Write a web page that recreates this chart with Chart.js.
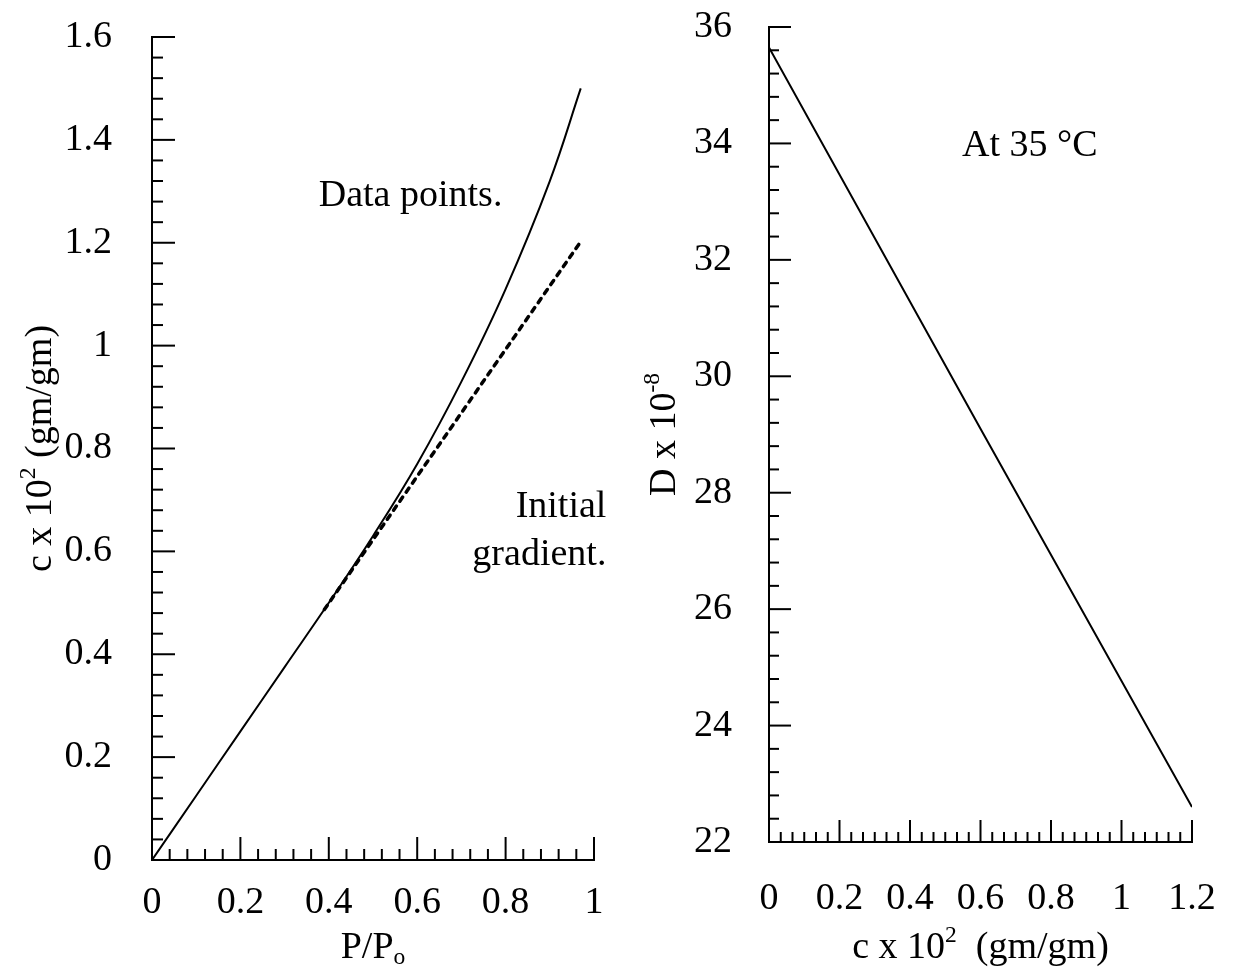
<!DOCTYPE html>
<html>
<head>
<meta charset="utf-8">
<script src="https://cdn.jsdelivr.net/npm/chart.js@4"></script>
<style>
  html, body { margin: 0; padding: 0; background: #fff; }
  .box { position: absolute; top: 0; width: 620px; height: 974px; }
  #left { left: 0; }
  #right { left: 620px; }
</style>
</head>
<body>
<div class="box" id="left"><canvas id="chartLeft" width="620" height="974"></canvas></div>
<div class="box" id="right"><canvas id="chartRight" width="620" height="974"></canvas></div>
<script>
// 왼쪽 그래프: 흡착 곡선
const ratioP = [0, 0.1, 0.2, 0.3, 0.4, 0.5, 0.6, 0.7, 0.8, 0.9, 0.97];
const concData = [0, 0.125, 0.25, 0.375, 0.50, 0.63, 0.77, 0.93, 1.11, 1.32, 1.50];
const gradP = [0.39, 0.973];
const gradC = [0.487, 1.206];

// 오른쪽 그래프: 확산계수
const concD = [0, 0.6, 1.2];
const diffD = [35.65, 29.1, 22.6];

const FONT = "'Liberation Serif', 'Times New Roman', serif";
const FS = 38;

function pts(xs, ys) {
    return xs.map((x, i) => ({ x: x, y: ys[i] }));
}

// 안쪽 눈금 그리기
const innerTicks = {
    id: 'innerTicks',
    afterDraw(chart, args, opts) {
        const ctx = chart.ctx;
        ctx.save();
        ctx.strokeStyle = '#000';
        ctx.lineWidth = 2;
        ['x', 'y'].forEach(k => {
            const sc = chart.scales[k];
            const o = opts[k];
            const n = Math.round((sc.max - sc.min) / o.minor);
            const every = Math.round(o.major / o.minor);
            for (let i = 0; i <= n; i++) {
                const v = sc.min + i * o.minor;
                const len = i % every === 0 ? o.bigLen : o.smallLen;
                const p = sc.getPixelForValue(v);
                ctx.beginPath();
                if (k === 'x') {
                    ctx.moveTo(p, sc.top);
                    ctx.lineTo(p, sc.top - len);
                } else {
                    ctx.moveTo(sc.right, p);
                    ctx.lineTo(sc.right + len, p);
                }
                ctx.stroke();
            }
        });
        ctx.restore();
    }
};

// 글자 (위첨자, 아래첨자 포함)
function drawRich(ctx, parts, x, y, rot) {
    ctx.save();
    ctx.translate(x, y);
    ctx.rotate(rot || 0);
    ctx.textBaseline = 'alphabetic';
    let total = 0;
    parts.forEach(p => {
        ctx.font = (p.sup || p.sub ? FS * 0.62 : FS) + 'px ' + FONT;
        total += ctx.measureText(p.t).width;
    });
    let cx = -total / 2;
    parts.forEach(p => {
        ctx.font = (p.sup || p.sub ? FS * 0.62 : FS) + 'px ' + FONT;
        let dy = FS * 0.33;
        if (p.sup) dy -= FS * 0.4;
        if (p.sub) dy += FS * 0.18;
        ctx.fillText(p.t, cx, dy);
        cx += ctx.measureText(p.t).width;
    });
    ctx.restore();
}

const labels = {
    id: 'labels',
    afterDraw(chart, args, opts) {
        const ctx = chart.ctx;
        const xs = chart.scales.x, ys = chart.scales.y;
        ctx.save();
        ctx.fillStyle = '#000';
        ctx.textBaseline = 'middle';
        ctx.font = FS + 'px ' + FONT;
        (opts.notes || []).forEach(nt => {
            ctx.textAlign = nt.align;
            ctx.fillText(nt.text, xs.getPixelForValue(nt.x), ys.getPixelForValue(nt.y));
        });
        ctx.textAlign = 'left';
        const a = chart.chartArea;
        drawRich(ctx, opts.xTitle, (a.left + a.right) / 2 + opts.xOff, 945, 0);
        drawRich(ctx, opts.yTitle, opts.yX, (a.top + a.bottom) / 2 + opts.yOff, -Math.PI / 2);
        ctx.restore();
    }
};

const fmt = v => String(Math.round(v * 10) / 10);

function makeChart(id, cfg) {
    return new Chart(document.getElementById(id), {
        type: 'line',
        data: { datasets: cfg.datasets },
        options: {
            responsive: false,
            animation: false,
            layout: { padding: cfg.padding },
            plugins: {
                legend: { display: false },
                tooltip: { enabled: false },
                innerTicks: cfg.ticks,
                labels: cfg.labels
            },
            scales: {
                x: {
                    type: 'linear', min: cfg.xr[0], max: cfg.xr[1],
                    grid: { display: false },
                    border: { display: true, color: '#000', width: 2 },
                    ticks: { stepSize: cfg.xStep, color: '#000', font: { family: FONT, size: FS }, padding: cfg.xPad, maxRotation: 0, callback: fmt },
                    afterFit: s => { s.height = cfg.xH; s.paddingLeft = 0; s.paddingRight = 0; }
                },
                y: {
                    type: 'linear', min: cfg.yr[0], max: cfg.yr[1],
                    grid: { display: false },
                    border: { display: true, color: '#000', width: 2 },
                    ticks: { stepSize: cfg.yStep, color: '#000', font: { family: FONT, size: FS }, padding: cfg.yPad, callback: fmt },
                    afterFit: s => { s.width = cfg.yW; s.paddingTop = 0; s.paddingBottom = 0; }
                }
            }
        },
        plugins: [innerTicks, labels]
    });
}

makeChart('chartLeft', {
    datasets: [
        { data: pts(ratioP, concData), borderColor: '#000', borderWidth: 2, pointRadius: 0, tension: 0.4 },
        { data: pts(gradP, gradC), borderColor: '#000', borderWidth: 3.5, borderDash: [5, 6], borderCapStyle: 'round', pointRadius: 0 }
    ],
    padding: { top: 37, right: 26, left: 0, bottom: 0 },
    xr: [0, 1], yr: [0, 1.6], xStep: 0.2, yStep: 0.2,
    xH: 114, yW: 152, xPad: 12, yPad: 32,
    ticks: { x: { minor: 0.04, major: 0.2, bigLen: 23, smallLen: 11 }, y: { minor: 0.04, major: 0.2, bigLen: 23, smallLen: 11 } },
    labels: {
        notes: [
            { text: 'Data points.', x: 0.585, y: 1.29, align: 'center' },
            { text: 'Initial', x: 1.028, y: 0.686, align: 'right' },
            { text: 'gradient.', x: 1.028, y: 0.593, align: 'right' }
        ],
        xTitle: [{ t: 'P/P' }, { t: 'o', sub: true }],
        xOff: 0,
        yTitle: [{ t: 'c x 10' }, { t: '2', sup: true }, { t: ' (gm/gm)' }],
        yX: 38, yOff: 0
    }
});

makeChart('chartRight', {
    datasets: [
        { data: pts(concD, diffD), borderColor: '#000', borderWidth: 2, pointRadius: 0 }
    ],
    padding: { top: 27, right: 48, left: 0, bottom: 0 },
    xr: [0, 1.2], yr: [22, 36], xStep: 0.2, yStep: 2,
    xH: 132, yW: 149, xPad: 26, yPad: 29,
    ticks: { x: { minor: 0.2 / 6, major: 0.2, bigLen: 22, smallLen: 10 }, y: { minor: 0.4, major: 2, bigLen: 22, smallLen: 10 } },
    labels: {
        notes: [
            { text: 'At 35 °C', x: 0.74, y: 33.95, align: 'center' }
        ],
        xTitle: [{ t: 'c x 10' }, { t: '2', sup: true }, { t: '  (gm/gm)' }],
        xOff: 0,
        yTitle: [{ t: 'D x 10' }, { t: '-8', sup: true }],
        yX: 42, yOff: 0
    }
});
</script>
</body>
</html>
